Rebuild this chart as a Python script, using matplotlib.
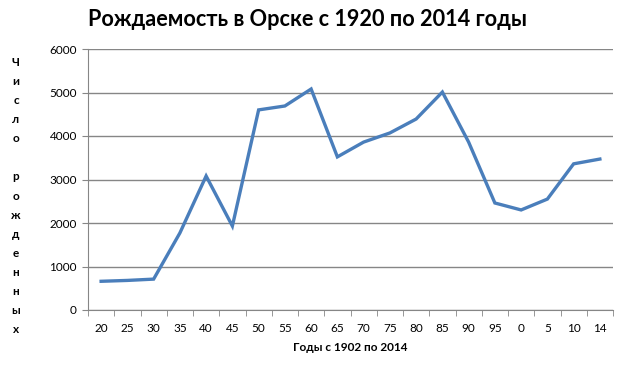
import matplotlib
matplotlib.use("Agg")
import matplotlib.pyplot as plt
import numpy as np

# годы (подписи категорий) и число рождений
years = ['20', '25', '30', '35', '40', '45', '50', '55', '60', '65',
         '70', '75', '80', '85', '90', '95', '0', '5', '10', '14']
births = [660, 680, 710, 1770, 3080, 1930, 4600, 4690, 5080, 3520,
          3860, 4070, 4390, 5010, 3860, 2460, 2300, 2550, 3360, 3470]

plt.rcParams['font.family'] = ['Lato', 'DejaVu Sans']

fig = plt.figure(figsize=(6.19, 3.71), dpi=100)
ax = fig.add_axes([88/619, 61/371, 525/619, 261/371])

x = np.arange(len(years))
ax.plot(x, births, color='#4A7EBB', lw=2.4, solid_joinstyle='miter')

ax.set_xlim(-0.5, len(years) - 0.5)
ax.set_ylim(0, 6000)
ax.set_yticks(np.arange(0, 6001, 1000))
ax.yaxis.grid(True, color='#868686', lw=1)
ax.set_axisbelow(True)

ax.set_xticks(x)
ax.set_xticklabels(years, fontsize=8.5)
ax.set_xticks(np.arange(-0.5, len(years)), minor=True)
ax.tick_params(axis='x', which='major', length=0, pad=9)
ax.tick_params(axis='x', which='minor', length=4, color='#868686')
ax.tick_params(axis='y', length=4, color='#868686', labelsize=8.5, pad=4)

for s in ['top', 'right']:
    ax.spines[s].set_visible(False)
for s in ['left', 'bottom']:
    ax.spines[s].set_color('#868686')

ax.set_xlabel('Годы с 1902 по 2014', fontsize=8.5, fontweight='bold', labelpad=6)

fig.text(88/619, 1 - 20/371, 'Рождаемость в Орске с 1920 по 2014 годы',
         fontsize=15.6, fontweight='bold', va='center', ha='left')

ylab = 'Число рожденных'
fig.text(16/619, 1 - 196/371, '\n'.join(ylab), fontsize=8.5, fontweight='bold',
         ha='center', va='center', linespacing=1.89)

fig.savefig('out.png', dpi=100)
